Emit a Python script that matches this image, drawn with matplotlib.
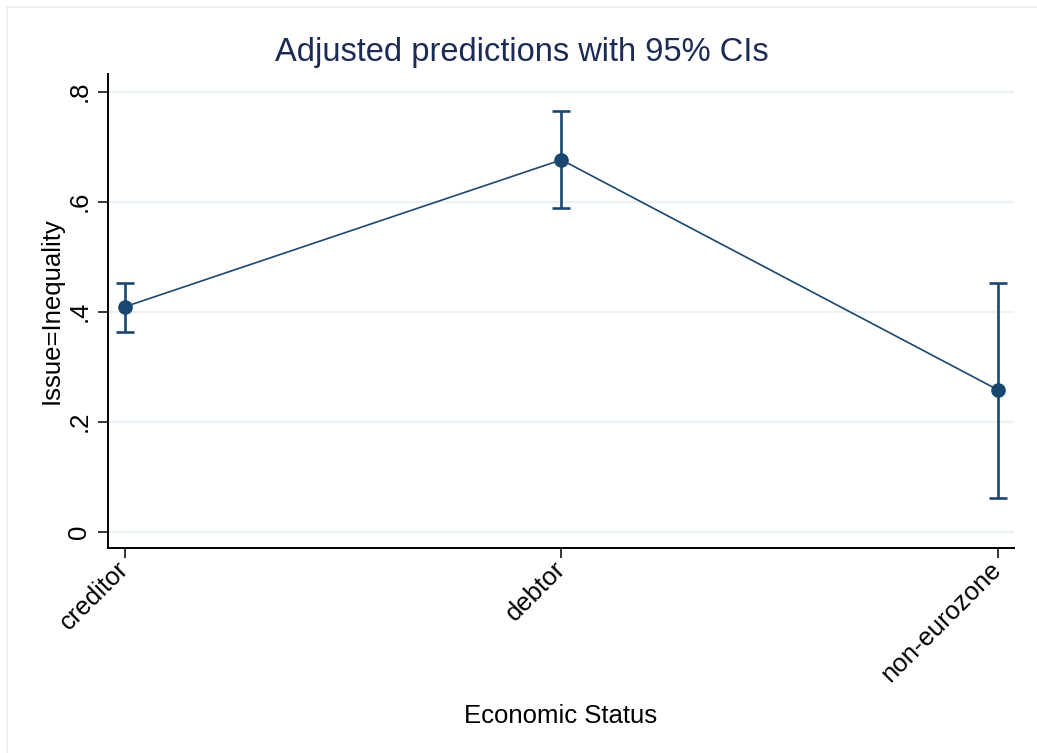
import matplotlib
matplotlib.use("Agg")
import matplotlib.pyplot as plt
from matplotlib.lines import Line2D

plt.rcParams['font.family'] = ['Liberation Sans', 'DejaVu Sans']

# Adjusted predictions by economic status
categories = ["creditor", "debtor", "non-eurozone"]
margin = [0.409, 0.676, 0.258]
ci_low = [0.363, 0.588, 0.062]
ci_high = [0.453, 0.765, 0.453]
y_ticks = [0, 0.2, 0.4, 0.6, 0.8]
y_ticklabels = ["0", ".2", ".4", ".6", ".8"]

navy = "#1a476f"
title_col = "#1c2b55"
grid_col = "#eaf2f3"
frame_col = "#e8eef0"

W, H = 1037, 753
fig = plt.figure(figsize=(W / 100, H / 100), dpi=100)

# outer graph-region border (top and left edges)
fig.add_artist(Line2D([6.5 / W, 6.5 / W], [0, 1 - 6.5 / H], transform=fig.transFigure,
                      color=frame_col, linewidth=1.2))
fig.add_artist(Line2D([6.5 / W, 1], [1 - 6.5 / H, 1 - 6.5 / H], transform=fig.transFigure,
                      color=frame_col, linewidth=1.2))

ax = fig.add_axes([108 / W, 1 - 547.7 / H, (1014 - 108) / W, (547.7 - 74) / H])

x = list(range(1, len(categories) + 1))
yerr = [[m - lo for m, lo in zip(margin, ci_low)],
        [hi - m for m, hi in zip(margin, ci_high)]]

ax.plot(x, margin, color=navy, linewidth=1.2, zorder=3)
ax.errorbar(x, margin, yerr=yerr, fmt="none", ecolor=navy, elinewidth=1.9,
            capsize=6.8, capthick=1.9, zorder=4)
ax.plot(x, margin, "o", color=navy, markersize=9.5, zorder=5)

ax.set_xlim(0.961, 3.037)
ax.set_ylim(-0.029, 0.832)

ax.set_yticks(y_ticks)
ax.set_yticklabels(y_ticklabels, rotation=90, va="center", fontsize=18.5)
ax.set_xticks(x)
ax.set_xticklabels(categories, rotation=45, ha="right", va="center",
                   rotation_mode="anchor", fontsize=18.5)

for yv in y_ticks:
    ax.axhline(yv, color=grid_col, linewidth=1.6, zorder=1)

for side in ("top", "right"):
    ax.spines[side].set_visible(False)
for side in ("left", "bottom"):
    ax.spines[side].set_linewidth(1.4)
    ax.spines[side].set_color("black")

ax.tick_params(axis="both", direction="out", length=7, width=1.1, pad=5)
ax.tick_params(axis="x", pad=6)

ax.set_ylabel("Issue=Inequality", fontsize=18.5, labelpad=3)
ax.set_xlabel("Economic Status", fontsize=18.5, labelpad=13)
fig.text(522 / W, 1 - 52 / H, "Adjusted predictions with 95% CIs",
         ha="center", va="center", fontsize=23.5, color=title_col)

fig.savefig("out.png", dpi=100, facecolor="white")
